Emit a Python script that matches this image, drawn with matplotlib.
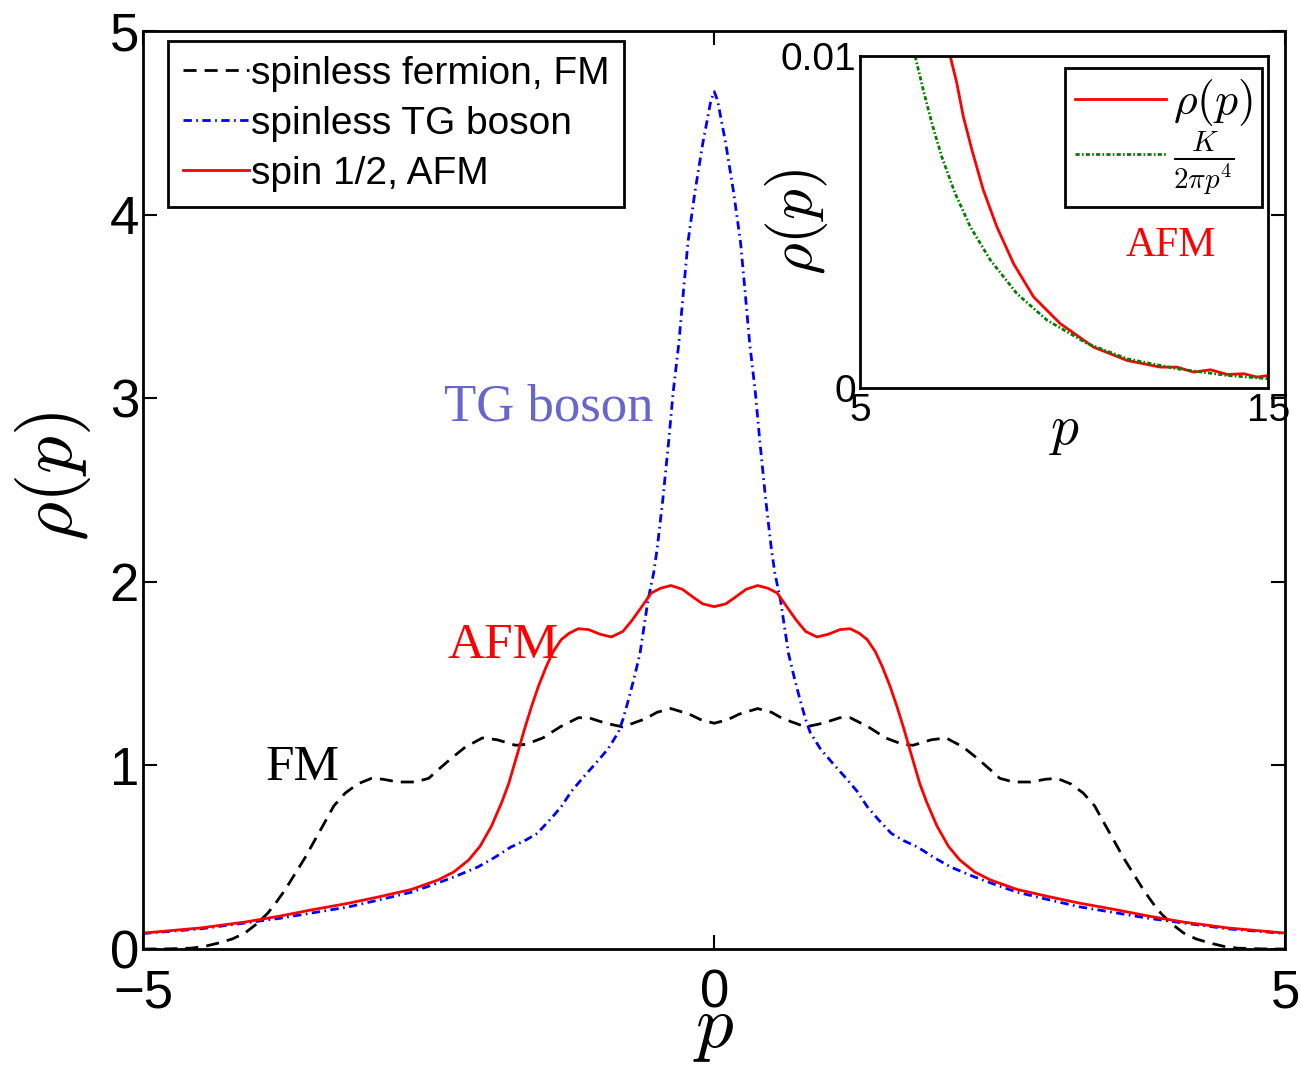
import matplotlib
matplotlib.use('Agg')
import matplotlib.pyplot as plt

plt.rcParams['font.family'] = ['Liberation Sans', 'DejaVu Sans']
plt.rcParams['mathtext.fontset'] = 'cm'

# main panel: momentum distribution rho(p)
p_fm = [-5.0, -4.8, -4.58, -4.46, -4.34, -4.22, -4.11, -4.0, -3.91, -3.84, -3.76, -3.67,
        -3.58, -3.5, -3.41, -3.33, -3.23, -3.12, -3.0, -2.9, -2.77, -2.62, -2.5, -2.42,
        -2.3, -2.18, -2.03, -1.9, -1.74, -1.65, -1.5, -1.35, -1.19, -1.1, -0.95, -0.8,
        -0.6, -0.5, -0.38, -0.22, -0.12, 0.0,
        0.12, 0.22, 0.38, 0.5, 0.6, 0.8, 0.95, 1.1, 1.19, 1.35, 1.5, 1.65, 1.74, 1.9,
        2.03, 2.18, 2.3, 2.42, 2.5, 2.62, 2.77, 2.9, 3.0, 3.12, 3.23, 3.33, 3.41, 3.5,
        3.58, 3.67, 3.76, 3.84, 3.91, 4.0, 4.11, 4.22, 4.34, 4.46, 4.58, 4.8, 5.0]
rho_fm = [0.0, 0.001, 0.005, 0.015, 0.033, 0.055, 0.087, 0.14, 0.195, 0.25, 0.32, 0.41,
          0.50, 0.59, 0.69, 0.78, 0.85, 0.90, 0.93, 0.925, 0.91, 0.91, 0.93, 0.975,
          1.04, 1.10, 1.15, 1.14, 1.11, 1.115, 1.15, 1.21, 1.26, 1.26, 1.23, 1.21,
          1.255, 1.29, 1.31, 1.28, 1.25, 1.23,
          1.25, 1.28, 1.31, 1.29, 1.255, 1.21, 1.23, 1.26, 1.26, 1.21, 1.15, 1.115, 1.11, 1.14,
          1.15, 1.10, 1.04, 0.975, 0.93, 0.91, 0.91, 0.925, 0.93, 0.90, 0.85, 0.78, 0.69, 0.59,
          0.50, 0.41, 0.32, 0.25, 0.195, 0.14, 0.087, 0.055, 0.033, 0.015, 0.005, 0.001, 0.0]

p_tg = [-5.0, -4.5, -4.11, -3.8, -3.53, -3.2, -2.94, -2.65, -2.42, -2.25, -2.07, -1.92,
        -1.78, -1.66, -1.55, -1.43, -1.34, -1.25, -1.14, -1.04, -0.93, -0.84, -0.8, -0.75,
        -0.7, -0.65, -0.58, -0.53, -0.5, -0.45, -0.4, -0.36, -0.31, -0.27, -0.23, -0.17,
        -0.1, -0.06, -0.03, 0.0,
        0.03, 0.06, 0.1, 0.17, 0.23, 0.27, 0.31, 0.36, 0.4, 0.45, 0.5, 0.53, 0.58, 0.65,
        0.7, 0.75, 0.8, 0.84, 0.93, 1.04, 1.14, 1.25, 1.34, 1.43, 1.55, 1.66, 1.78, 1.92,
        2.07, 2.25, 2.42, 2.65, 2.94, 3.2, 3.53, 3.8, 4.11, 4.5, 5.0]
rho_tg = [0.085, 0.11, 0.142, 0.168, 0.196, 0.23, 0.267, 0.31, 0.36, 0.40, 0.447, 0.50,
          0.556, 0.59, 0.63, 0.71, 0.775, 0.86, 0.94, 1.01, 1.09, 1.18, 1.25, 1.36,
          1.48, 1.61, 1.90, 2.05, 2.18, 2.45, 2.76, 3.03, 3.30, 3.58, 3.85, 4.12,
          4.39, 4.52, 4.62, 4.67,
          4.62, 4.52, 4.39, 4.12, 3.85, 3.58, 3.30, 3.03, 2.76, 2.45, 2.18, 2.05, 1.90, 1.61,
          1.48, 1.36, 1.25, 1.18, 1.09, 1.01, 0.94, 0.86, 0.775, 0.71, 0.63, 0.59, 0.556, 0.50,
          0.447, 0.40, 0.36, 0.31, 0.267, 0.23, 0.196, 0.168, 0.142, 0.11, 0.085]

p_afm = [-5.0, -4.5, -4.11, -3.8, -3.53, -3.2, -2.94, -2.65, -2.42, -2.28, -2.15, -2.05,
         -1.95, -1.86, -1.8, -1.72, -1.66, -1.6, -1.54, -1.47, -1.41, -1.34, -1.27, -1.19,
         -1.1, -1.0, -0.9, -0.8, -0.72, -0.64, -0.55, -0.47, -0.38, -0.28, -0.17, -0.1, 0.0,
         0.1, 0.17, 0.28, 0.38, 0.47, 0.55, 0.64, 0.72, 0.8, 0.9, 1.0, 1.1, 1.19, 1.27,
         1.34, 1.41, 1.47, 1.54, 1.6, 1.66, 1.72, 1.8, 1.86, 1.95, 2.05, 2.15, 2.28, 2.42,
         2.65, 2.94, 3.2, 3.53, 3.8, 4.11, 4.5, 5.0]
rho_afm = [0.087, 0.115, 0.147, 0.18, 0.213, 0.25, 0.284, 0.325, 0.376, 0.42, 0.485, 0.56,
           0.67, 0.80, 0.90, 1.07, 1.20, 1.32, 1.43, 1.54, 1.62, 1.685, 1.72, 1.745,
           1.74, 1.715, 1.70, 1.73, 1.79, 1.86, 1.94, 1.965, 1.98, 1.96, 1.91, 1.88, 1.865,
           1.88, 1.91, 1.96, 1.98, 1.965, 1.94, 1.86, 1.79, 1.73, 1.70, 1.715, 1.74, 1.745, 1.72,
           1.685, 1.62, 1.54, 1.43, 1.32, 1.20, 1.07, 0.90, 0.80, 0.67, 0.56, 0.485, 0.42, 0.376,
           0.325, 0.284, 0.25, 0.213, 0.18, 0.147, 0.115, 0.087]

# inset: large-p tail
p_in = [7.21, 7.37, 7.53, 7.74, 8.02, 8.35, 8.76, 9.25, 9.9, 10.72, 11.54, 12.35, 12.76,
        13.17, 13.58, 13.99, 14.4, 14.72, 15.0]
rho_in = [0.00998, 0.00918, 0.00817, 0.00717, 0.00596, 0.00486, 0.00375, 0.00275, 0.00195,
          0.00124, 0.00084, 0.00064, 0.00064, 0.00049, 0.00056, 0.00042, 0.00044, 0.00034, 0.00039]
p_tail = [6.35, 6.55, 6.76, 7.0, 7.33, 7.7, 8.19, 8.84, 9.58, 10.56, 11.54, 12.76, 13.99, 15.0]
rho_tail = [0.00998, 0.00897, 0.00797, 0.00697, 0.00586, 0.00486, 0.00386, 0.00285, 0.00205,
            0.00135, 0.00089, 0.00059, 0.00039, 0.00029]

fig = plt.figure(figsize=(13.01, 10.70), dpi=100)
ax = fig.add_axes([0.110, 0.113, 0.878, 0.858])

ax.plot(p_fm, rho_fm, color='black', lw=2.0, dashes=(4.7, 2.9), label='spinless fermion, FM')
ax.plot(p_tg, rho_tg, color='blue', lw=2.0, dashes=(3, 1.6, 0.6, 1.6), label='spinless TG boson')
ax.plot(p_afm, rho_afm, color='red', lw=2.0, label='spin 1/2, AFM')

ax.set_xlim(-5, 5)
ax.set_ylim(0, 5)
ax.set_xticks([-5, 0, 5])
ax.set_yticks([0, 1, 2, 3, 4, 5])
ax.tick_params(direction='in', length=10, width=1.5, labelsize=38, pad=14,
               top=True, right=True)
ax.tick_params(axis='y', pad=3)
for s in ax.spines.values():
    s.set_linewidth(2)

ax.set_xlabel(r'$p$', fontsize=54)
ax.set_ylabel(r'$\rho(p)$', fontsize=54)
ax.xaxis.set_label_coords(0.5, -0.05)
ax.yaxis.set_label_coords(-0.044, 0.515)

leg = ax.legend(loc='upper left', bbox_to_anchor=(0.022, 0.989), borderaxespad=0,
                fontsize=28, handlelength=1.7, handletextpad=0.05, labelspacing=0.36,
                borderpad=0.38, fancybox=False, framealpha=1)
leg.get_frame().set_edgecolor('black')
leg.get_frame().set_linewidth(2)

ax.text(-1.45, 2.95, 'TG boson', color='#6666cc', fontsize=38, family='Liberation Serif',
        ha='center', va='center')
ax.text(-1.85, 1.65, 'AFM', color='red', fontsize=37, family='Liberation Serif',
        ha='center', va='center')
ax.text(-3.6, 0.99, 'FM', color='black', fontsize=37, family='Liberation Serif',
        ha='center', va='center')

# inset
ins = fig.add_axes([0.661, 0.637, 0.314, 0.311])
ins.plot(p_in, rho_in, color='red', lw=2.0, label=r'$\rho(p)$')
ins.plot(p_tail, rho_tail, color='green', lw=2.0, dashes=(1.5, 0.8, 0.6, 0.8),
         label=r'$\frac{K}{2\pi p^4}$')
ins.set_xlim(5, 15)
ins.set_ylim(0, 0.01)
ins.set_xticks([5, 15])
ins.set_yticks([0, 0.01])
ins.set_yticklabels(['0', '0.01'])
ins.tick_params(direction='in', length=0, labelsize=28, pad=3)
for s in ins.spines.values():
    s.set_linewidth(2)
ins.set_xlabel(r'$p$', fontsize=40)
ins.set_ylabel(r'$\rho(p)$', fontsize=44)
ins.xaxis.set_label_coords(0.5, -0.05)
ins.yaxis.set_label_coords(-0.074, 0.5)
ins.text(12.6, 0.0043, 'AFM', color='red', fontsize=30, family='Liberation Serif',
         ha='center', va='center')
leg2 = ins.legend(loc='upper right', bbox_to_anchor=(0.985, 0.964), borderaxespad=0,
                  fontsize=30, handlelength=2.2, handletextpad=0.17, labelspacing=0.02,
                  borderpad=0.22, fancybox=False, framealpha=1)
leg2.get_texts()[0].set_fontsize(33)
leg2.get_texts()[1].set_fontsize(30)
leg2.get_frame().set_edgecolor('black')
leg2.get_frame().set_linewidth(2)

fig.savefig('out.png', dpi=100)
